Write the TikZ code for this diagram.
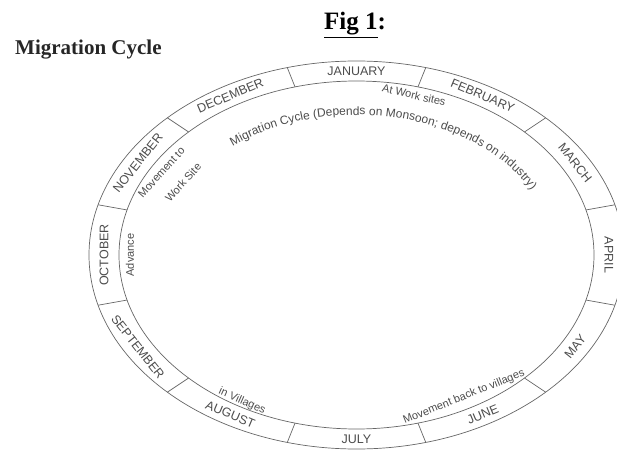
\documentclass[tikz,border=0pt]{standalone}
\usepackage{fontspec}
\setmainfont{Liberation Serif}
\setsansfont{Liberation Sans}
\usetikzlibrary{calc, decorations.text}

\begin{document}
\begin{tikzpicture}[x=1pt, y=1pt, font=\sffamily,
    ring/.style={draw=black!60, line width=0.7pt},
    month/.style={font=\sffamily\fontsize{12.5}{13}\selectfont, text=black!70, inner sep=0pt},
    note/.style={font=\sffamily\fontsize{11}{12}\selectfont, text=black!70, inner sep=0pt}]

\useasboundingbox (0,0) rectangle (617,450);
\clip (0,0) rectangle (617,450);

% titles
\node[font=\rmfamily\bfseries\fontsize{25}{25}\selectfont, anchor=base west, inner sep=0pt] (fig) at (324,420) {\underline{Fig 1}:};
\node[font=\rmfamily\bfseries\fontsize{21}{22}\selectfont, text=black!85, anchor=base west, inner sep=0pt] (title) at (15,395) {Migration Cycle};

% the ring
\coordinate (c) at (356.5,195);
\draw[ring] (c) ellipse [x radius=267.5, y radius=194];
\draw[ring] (c) ellipse [x radius=237.5, y radius=174];
\foreach \t in {15,45,...,345}
    \draw[ring] ($(c)+(\t:237.5 and 174)$) -- ($(c)+(\t:267.5 and 194)$);

% months
\foreach \name/\t/\rot in {JANUARY/90/0, FEBRUARY/60/-22.8, MARCH/30/-51.6, APRIL/0/-90,
        MAY/-30/51.6, JUNE/-60/22.8, JULY/-90/0, AUGUST/-120/-22.8,
        SEPTEMBER/-150/-51.6, OCTOBER/180/90, NOVEMBER/150/51.6, DECEMBER/120/22.8}
    \node[month, rotate=\rot] (\name) at ($(c)+(\t:252.5 and 184)$) {\name};

% inner texts
\path[decorate, decoration={text along path, text align=center, text color=black!70,
        text={|\sffamily\fontsize{12}{12}\selectfont|Migration Cycle (Depends on Monsoon; depends on industry)}}]
    ($(c)+(132:197 and 140)$) arc[start angle=132, end angle=24, x radius=197, y radius=140];

\node[note, rotate=-13] (work) at (414,355) {At Work sites};
\node[note, rotate=48, align=left] (move) at (170,270) {Movement to\\[11pt]\hspace*{15pt}Work Site};
\node[note, rotate=90] (adv) at (130,195) {Advance};
\node[note, rotate=-24] (vill) at (242,49) {in Villages};
\node[note, rotate=22] (back) at (464,53) {Movement back to villages};

\end{tikzpicture}
\end{document}
